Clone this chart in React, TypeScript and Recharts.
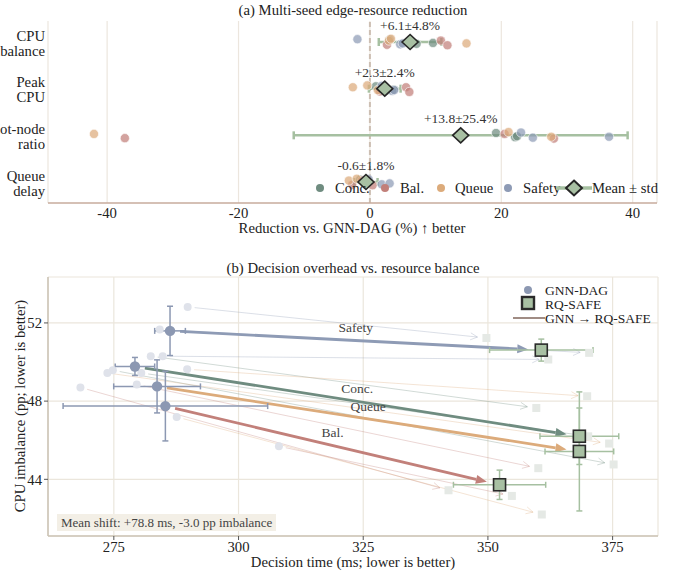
import React from "react";
import { CartesianGrid, ErrorBar, ReferenceLine, Scatter, ScatterChart, XAxis, YAxis } from "recharts";

const FONT = '"Liberation Serif", "Times New Roman", serif';
const INK = "#222";

const variants = ["Conc.", "Bal.", "Queue", "Safety"];
const metricLabels = [["CPU", "imbalance"], ["Peak", "CPU"], ["Hot-node", "ratio"], ["Queue", "delay"]];

// (a) reduction vs GNN-DAG (%), one row per variant, three seeds each
const cpuImbalance = [[3.0, 7.1, 9.6], [2.6, 10.8, 11.8], [2.9, 3.2, 14.7], [-1.9, 4.6, 5.0]];
const peakCpu = [[0.9, 2.5, 3.6], [1.5, 5.5, 6.0], [-2.6, -0.4, 1.2], [1.8, 3.4, 3.7]];
const hotNodeRatio = [[19.2, 22.1, 22.4], [-37.3, 20.5, 28.0], [-42.0, 21.1, 27.6], [23.0, 24.8, 36.4]];
const queueDelay = [[-1.5, -0.8, -0.3], [-2.7, -1.2, 0.4], [-3.2, -2.0, -0.5], [-0.2, 1.8, 3.0]];
const reductionTicks = [-40, -20, 0, 20, 40];

// (b) decision time (ms) and CPU imbalance (pp) per seed, GNN-DAG -> RQ-SAFE
const gnnTime = [[282.4, 274.8, 280.5], [268.3, 308.1, 279.6], [289.7, 273.7, 287.6], [289.8, 284.2, 284.8]];
const gnnImb = [[50.3, 49.58, 49.44], [48.7, 45.69, 48.85], [49.63, 49.44, 47.19], [52.82, 51.66, 50.3]];
const rqTime = [[359.7, 375.2, 370.1], [342.1, 354.8, 360.1], [369.9, 374.3, 360.8], [349.7, 370.3, 362.1]];
const rqImb = [[47.65, 44.76, 46.2], [43.44, 43.15, 44.57], [48.25, 45.83, 42.2], [51.23, 50.47, 50.13]];
const timeTicks = [275, 300, 325, 350, 375];
const imbTicks = [44, 48, 52];

// styling
const COLORS = ["#6f8c80", "#c2807a", "#dcab7b", "#8e9bb5"];
const JITTER = [[-0.05, 0.04, 0.02], [0.06, -0.03, 0.07], [-0.03, -0.07, 0.03], [-0.06, 0.05, 0.03]];
const MEAN_FILL = "#a8c0a3";
const MEAN_BAR = "#a6c0a1";
const GNN_COLOR = "#8c98b2";
const FS = 14.7;
const tickStyle = { fill: INK, fontSize: FS, fontFamily: FONT };

const mean = (a: number[]) => a.reduce((s, v) => s + v, 0) / a.length;
const std = (a: number[]) => {
  const m = mean(a);
  return Math.sqrt(a.reduce((s, v) => s + (v - m) ** 2, 0) / (a.length - 1));
};
const fmt = (v: number) => `${v >= 0 ? "+" : ""}${v.toFixed(1)}`;

const MetricTick = (p: any) => {
  const lines = metricLabels[p.payload.value];
  return (
    <text x={p.x} y={p.y} textAnchor="end" fill={INK} fontSize={FS} fontFamily={FONT}>
      <tspan x={p.x} dy={-1.5}>{lines[0]}</tspan>
      <tspan x={p.x} dy={15}>{lines[1]}</tspan>
    </text>
  );
};

const Diamond = (p: any) => {
  const { cx, cy, payload } = p;
  return (
    <g>
      <text x={cx} y={cy - 12} textAnchor="middle" fontSize={13.5} fill="#333" fontFamily={FONT}>
        {`${fmt(payload.x)}±${payload.err.toFixed(1)}%`}
      </text>
      <path
        d={`M${cx},${cy - 7.5} L${cx + 8},${cy} L${cx},${cy + 7.5} L${cx - 8},${cy} Z`}
        fill={MEAN_FILL}
        stroke="#262626"
        strokeWidth={1.6}
      />
    </g>
  );
};

function PanelA() {
  const rows = [cpuImbalance, peakCpu, hotNodeRatio, queueDelay];
  const dots = variants.map((_, v) =>
    rows.flatMap((row, r) => row[v].map((x, s) => ({ x, y: r + JITTER[v][s] })))
  );
  const summary = rows.map((row, r) => {
    const all = row.flat();
    return { x: mean(all), y: r, err: std(all) };
  });
  return (
    <ScatterChart width={678} height={240} margin={{ top: 21, right: 21, bottom: 0, left: 0 }} style={{ fontFamily: FONT }}>
      <CartesianGrid horizontal={false} stroke="#ece6de" strokeWidth={1.2} />
      <XAxis
        type="number"
        dataKey="x"
        domain={[-49, 43.7]}
        ticks={reductionTicks}
        allowDataOverflow
        height={37}
        axisLine={{ stroke: "#c7ab9c", strokeWidth: 1.5 }}
        tickLine={false}
        tickSize={3}
        tickMargin={2}
        tick={tickStyle}
      />
      <YAxis
        type="number"
        dataKey="y"
        domain={[-0.45, 3.45]}
        reversed
        allowDataOverflow
        ticks={[0, 1, 2, 3]}
        width={48}
        axisLine={false}
        tickLine={false}
        tickSize={0}
        tickMargin={3}
        tick={MetricTick}
      />
      <ReferenceLine x={0} stroke="#cdbfb3" strokeWidth={2} strokeDasharray="5 3" />
      {dots.map((d, v) => (
        <Scatter
          key={variants[v]}
          data={d}
          isAnimationActive={false}
          shape={(p: any) => (
            <circle cx={p.cx} cy={p.cy} r={4.6} fill={COLORS[v]} fillOpacity={0.72} stroke="#fff" strokeWidth={0.6} />
          )}
        />
      ))}
      <Scatter data={summary} isAnimationActive={false} shape={Diamond}>
        <ErrorBar dataKey="err" direction="x" stroke={MEAN_BAR} strokeWidth={2.5} width={4} />
      </Scatter>
    </ScatterChart>
  );
}

const arrow = (color: string, main: boolean, label?: string) => (p: any) => {
  const { x1, y1, x2, y2 } = p;
  const len = Math.hypot(x2 - x1, y2 - y1) || 1;
  const ux = (x2 - x1) / len;
  const uy = (y2 - y1) / len;
  const a = main ? 10 : 7;
  const b = main ? 13 : 9;
  const sx = x1 + ux * a;
  const sy = y1 + uy * a;
  const ex = x2 - ux * b;
  const ey = y2 - uy * b;
  const hl = main ? 11 : 7;
  const hw = main ? 4.5 : 3.5;
  const bx = ex - ux * hl;
  const by = ey - uy * hl;
  const px = -uy;
  const py = ux;
  if (main) {
    return (
      <g>
        <line x1={sx} y1={sy} x2={bx} y2={by} stroke={color} strokeWidth={2.8} />
        <path d={`M${ex},${ey} L${bx + px * hw},${by + py * hw} L${bx - px * hw},${by - py * hw} Z`} fill={color} />
        {label && (
          <text x={(x1 + x2) / 2} y={(y1 + y2) / 2 - 8} textAnchor="middle" fontSize={13.5} fill="#444" fontFamily={FONT}>
            {label}
          </text>
        )}
      </g>
    );
  }
  return (
    <g stroke={color} strokeOpacity={0.32} strokeWidth={1} fill="none">
      <line x1={sx} y1={sy} x2={ex} y2={ey} />
      <path d={`M${bx + px * hw},${by + py * hw} L${ex},${ey} L${bx - px * hw},${by - py * hw}`} />
    </g>
  );
};

function PanelB() {
  const gnnSeeds = variants.flatMap((_, v) => gnnTime[v].map((x, s) => ({ x, y: gnnImb[v][s] })));
  const rqSeeds = variants.flatMap((_, v) => rqTime[v].map((x, s) => ({ x, y: rqImb[v][s] })));
  const gnnMean = variants.map((_, v) => ({ x: mean(gnnTime[v]), y: mean(gnnImb[v]), ex: std(gnnTime[v]), ey: std(gnnImb[v]) }));
  const rqMean = variants.map((_, v) => ({ x: mean(rqTime[v]), y: mean(rqImb[v]), ex: std(rqTime[v]), ey: std(rqImb[v]) }));
  return (
    <ScatterChart width={678} height={336} margin={{ top: 37, right: 20, bottom: 0, left: 0 }} style={{ fontFamily: FONT }}>
      <CartesianGrid stroke="#ebe6dc" strokeWidth={1.2} />
      <XAxis
        type="number"
        dataKey="x"
        domain={[261.8, 384.1]}
        ticks={timeTicks}
        allowDataOverflow
        height={40}
        axisLine={{ stroke: "#cbc3b4", strokeWidth: 1.5 }}
        tickLine={{ stroke: "#555" }}
        tickSize={4}
        tickMargin={2}
        tick={tickStyle}
      />
      <YAxis
        type="number"
        dataKey="y"
        domain={[41.1, 54.35]}
        ticks={imbTicks}
        allowDataOverflow
        width={48}
        axisLine={{ stroke: "#cbc3b4", strokeWidth: 1.5 }}
        tickLine={{ stroke: "#555" }}
        tickSize={4}
        tickMargin={2}
        tick={tickStyle}
      />
      {variants.flatMap((_, v) =>
        gnnTime[v].map((x, s) => (
          <ReferenceLine
            key={`f${v}${s}`}
            segment={[{ x, y: gnnImb[v][s] }, { x: rqTime[v][s], y: rqImb[v][s] }]}
            shape={arrow(COLORS[v], false)}
          />
        ))
      )}
      <Scatter
        data={gnnSeeds}
        isAnimationActive={false}
        shape={(p: any) => <circle cx={p.cx} cy={p.cy} r={4} fill="#dfe2ea" />}
      />
      <Scatter
        data={rqSeeds}
        isAnimationActive={false}
        shape={(p: any) => <rect x={p.cx - 4} y={p.cy - 4} width={8} height={8} fill="#e5e9e5" />}
      />
      {variants.map((name, v) => (
        <ReferenceLine
          key={`m${v}`}
          segment={[{ x: gnnMean[v].x, y: gnnMean[v].y }, { x: rqMean[v].x, y: rqMean[v].y }]}
          shape={arrow(COLORS[v], true, name)}
        />
      ))}
      <Scatter
        data={gnnMean}
        isAnimationActive={false}
        shape={(p: any) => <circle cx={p.cx} cy={p.cy} r={5.2} fill={GNN_COLOR} />}
      >
        <ErrorBar dataKey="ex" direction="x" stroke={GNN_COLOR} strokeWidth={1.5} width={3} />
        <ErrorBar dataKey="ey" direction="y" stroke={GNN_COLOR} strokeWidth={1.5} width={3} />
      </Scatter>
      <Scatter
        data={rqMean}
        isAnimationActive={false}
        shape={(p: any) => (
          <rect x={p.cx - 6} y={p.cy - 6} width={12} height={12} fill={MEAN_FILL} stroke="#2a2a2a" strokeWidth={1.6} />
        )}
      >
        <ErrorBar dataKey="ex" direction="x" stroke={MEAN_BAR} strokeWidth={1.5} width={3} />
        <ErrorBar dataKey="ey" direction="y" stroke={MEAN_BAR} strokeWidth={1.5} width={3} />
      </Scatter>
    </ScatterChart>
  );
}

const abs = (left: number, top: number, extra: React.CSSProperties = {}): React.CSSProperties => ({
  position: "absolute",
  left,
  top,
  whiteSpace: "nowrap",
  lineHeight: 1,
  ...extra,
});

export default function App() {
  const dx = mean(variants.map((_, v) => mean(rqTime[v]) - mean(gnnTime[v])));
  const dy = mean(variants.map((_, v) => mean(rqImb[v]) - mean(gnnImb[v])));
  const legendA = [
    { dot: 320, text: 335 },
    { dot: 385, text: 400 },
    { dot: 441, text: 455 },
    { dot: 508, text: 523 },
  ];
  return (
    <div style={{ position: "absolute", left: 0, top: 0, width: 678, height: 576, background: "#fff", fontFamily: FONT, color: INK, fontSize: FS, overflow: "hidden" }}>
      <div style={abs(0, 0)}>
        <PanelA />
      </div>
      <div style={abs(0, 240)}>
        <PanelB />
      </div>

      <div style={abs(353, 3, { transform: "translateX(-50%)" })}>(a) Multi-seed edge-resource reduction</div>
      <div style={abs(352, 221, { transform: "translateX(-50%)" })}>Reduction vs. GNN-DAG (%) ↑ better</div>

      {legendA.map((l, v) => (
        <React.Fragment key={variants[v]}>
          <svg style={abs(l.dot - 5, 183)} width={10} height={10}>
            <circle cx={5} cy={5} r={4} fill={COLORS[v]} />
          </svg>
          <div style={abs(l.text, 181)}>{variants[v]}</div>
        </React.Fragment>
      ))}
      <svg style={abs(556, 179)} width={36} height={18}>
        <line x1={0} y1={9} x2={36} y2={9} stroke={MEAN_BAR} strokeWidth={3.5} />
        <path d="M18,1.5 L26,9 L18,16.5 L10,9 Z" fill={MEAN_FILL} stroke="#262626" strokeWidth={2} />
      </svg>
      <div style={abs(592, 181)}>Mean ± std</div>

      <div style={abs(353, 261, { transform: "translateX(-50%)" })}>(b) Decision overhead vs. resource balance</div>
      <div style={abs(353, 555, { transform: "translateX(-50%)" })}>Decision time (ms; lower is better)</div>
      <div style={abs(20, 406, { transform: "translate(-50%, -50%) rotate(-90deg)" })}>CPU imbalance (pp; lower is better)</div>

      <svg style={abs(523, 285)} width={10} height={10}>
        <circle cx={5} cy={5} r={4} fill={GNN_COLOR} />
      </svg>
      <div style={abs(545, 283.5, { fontSize: 13.5 })}>GNN-DAG</div>
      <svg style={abs(520, 295)} width={16} height={16}>
        <rect x={2} y={2} width={12} height={12} fill={MEAN_FILL} stroke="#2a2a2a" strokeWidth={2.4} />
      </svg>
      <div style={abs(545, 297.5, { fontSize: 13.5 })}>RQ-SAFE</div>
      <svg style={abs(513, 316)} width={32} height={4}>
        <line x1={0} y1={2} x2={32} y2={2} stroke="#a08c84" strokeWidth={2} />
      </svg>
      <div style={abs(545, 311.5, { fontSize: 13.5 })}>GNN → RQ-SAFE</div>

      <div style={abs(57, 514, { background: "#f3efe6", padding: "2px 4px", fontSize: 13, color: "#444" })}>
        {`Mean shift: ${fmt(dx)} ms, ${dy.toFixed(1)} pp imbalance`}
      </div>
    </div>
  );
}
